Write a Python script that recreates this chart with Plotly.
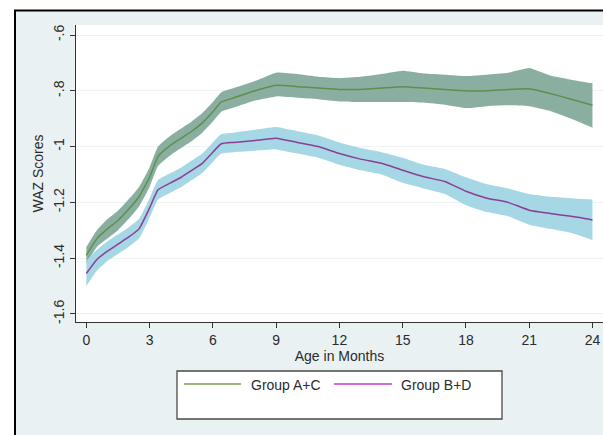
import plotly.graph_objects as go

# Age (months) at which the smoothed WAZ curves are evaluated
age = [0, 0.5, 1, 1.5, 2, 2.5, 3, 3.4, 4, 4.5, 5, 5.5, 6, 6.4, 7, 8, 9, 10,
       11, 12, 13, 14, 15, 16, 17, 18, 19, 20, 21, 22, 23, 24]

# Group A+C: mean WAZ with confidence band
ac_mean = [-1.39, -1.33, -1.295, -1.265, -1.225, -1.18, -1.11, -1.035, -0.995,
           -0.97, -0.945, -0.915, -0.875, -0.84, -0.825, -0.80, -0.78, -0.785,
           -0.79, -0.795, -0.795, -0.79, -0.785, -0.79, -0.795, -0.80, -0.80,
           -0.795, -0.793, -0.81, -0.83, -0.852]
ac_upper = [-1.36, -1.30, -1.26, -1.23, -1.19, -1.145, -1.075, -1.0, -0.96,
            -0.935, -0.91, -0.88, -0.84, -0.805, -0.79, -0.765, -0.735, -0.74,
            -0.75, -0.755, -0.75, -0.74, -0.728, -0.738, -0.742, -0.747, -0.742,
            -0.735, -0.718, -0.745, -0.76, -0.773]
ac_lower = [-1.42, -1.36, -1.33, -1.30, -1.26, -1.215, -1.145, -1.07, -1.03,
            -1.005, -0.98, -0.95, -0.91, -0.875, -0.86, -0.835, -0.82, -0.825,
            -0.83, -0.838, -0.84, -0.84, -0.84, -0.842, -0.85, -0.862, -0.855,
            -0.852, -0.855, -0.872, -0.90, -0.932]

# Group B+D: mean WAZ with confidence band
bd_mean = [-1.455, -1.405, -1.375, -1.35, -1.325, -1.295, -1.22, -1.155, -1.13,
           -1.11, -1.085, -1.06, -1.02, -0.99, -0.985, -0.978, -0.97, -0.985,
           -1.0, -1.025, -1.045, -1.06, -1.085, -1.108, -1.125, -1.16, -1.185,
           -1.20, -1.228, -1.24, -1.25, -1.263]
bd_upper = [-1.41, -1.37, -1.34, -1.315, -1.29, -1.26, -1.185, -1.12, -1.095,
            -1.075, -1.05, -1.025, -0.985, -0.955, -0.95, -0.94, -0.93, -0.945,
            -0.96, -0.985, -1.005, -1.02, -1.04, -1.065, -1.08, -1.11, -1.135,
            -1.15, -1.17, -1.18, -1.185, -1.19]
bd_lower = [-1.50, -1.445, -1.41, -1.385, -1.36, -1.33, -1.255, -1.19, -1.165,
            -1.145, -1.12, -1.095, -1.055, -1.025, -1.02, -1.015, -1.01, -1.025,
            -1.04, -1.065, -1.085, -1.10, -1.13, -1.15, -1.17, -1.21, -1.235,
            -1.25, -1.28, -1.295, -1.31, -1.335]

x_ticks = [0, 3, 6, 9, 12, 15, 18, 21, 24]
y_ticks = [-0.6, -0.8, -1.0, -1.2, -1.4, -1.6]
y_tick_text = ["-.6", "-.8", "-1", "-1.2", "-1.4", "-1.6"]
series_names = ["Group A+C", "Group B+D"]

W, H = 603, 435
ML, MR, MT, MB = 76, 0, 25, 113
PW, PH = W - ML - MR, H - MT - MB

GREEN_BAND = "#8AAFA1"
GREEN_LINE = "#5E8F4C"
BLUE_BAND = "#A6D7E5"
PURPLE_LINE = "#8A3F96"
FRAME_BG = "#EAF1F3"
FONT = "Liberation Sans, Arial, sans-serif"
TEXT = "#2b2b2b"
FS = 14


def px(x):
    """pixel column -> paper x"""
    return (x - ML) / PW


def py(y):
    """pixel row -> paper y"""
    return (H - MB - y) / PH


fig = go.Figure()

for upper, lower, band in [(ac_upper, ac_lower, GREEN_BAND),
                           (bd_upper, bd_lower, BLUE_BAND)]:
    fig.add_trace(go.Scatter(x=age, y=upper, mode="lines",
                             line=dict(width=0, shape="spline", smoothing=0.4),
                             hoverinfo="skip", showlegend=False))
    fig.add_trace(go.Scatter(x=age, y=lower, mode="lines",
                             line=dict(width=0, shape="spline", smoothing=0.4),
                             fill="tonexty", fillcolor=band,
                             hoverinfo="skip", showlegend=False))

fig.add_trace(go.Scatter(x=age, y=ac_mean, mode="lines", name=series_names[0],
                         line=dict(color=GREEN_LINE, width=1.5, shape="spline",
                                   smoothing=0.4),
                         showlegend=False))
fig.add_trace(go.Scatter(x=age, y=bd_mean, mode="lines", name=series_names[1],
                         line=dict(color=PURPLE_LINE, width=1.5, shape="spline",
                                   smoothing=0.4),
                         showlegend=False))

shapes = [
    # white margin outside the graph frame
    dict(type="rect", xref="paper", yref="paper", x0=px(-5), x1=px(W + 5),
         y0=py(10), y1=py(-5), fillcolor="white", line=dict(width=0), layer="below"),
    dict(type="rect", xref="paper", yref="paper", x0=px(-5), x1=px(15),
         y0=py(H + 5), y1=py(-5), fillcolor="white", line=dict(width=0), layer="below"),
    # frame lines
    dict(type="line", xref="paper", yref="paper", x0=px(14), x1=px(W + 5),
         y0=py(10.5), y1=py(10.5), line=dict(color="black", width=2)),
    dict(type="line", xref="paper", yref="paper", x0=px(15), x1=px(15),
         y0=py(10), y1=py(H + 5), line=dict(color="black", width=2)),
    # legend box
    dict(type="rect", xref="paper", yref="paper", x0=px(177), x1=px(502),
         y0=py(419), y1=py(371), fillcolor="white",
         line=dict(color="#4a4a4a", width=1.3)),
    # legend keys
    dict(type="line", xref="paper", yref="paper", x0=px(184), x1=px(241),
         y0=py(384), y1=py(384), line=dict(color="#7E9E50", width=1.3)),
    dict(type="line", xref="paper", yref="paper", x0=px(334), x1=px(392),
         y0=py(384), y1=py(384), line=dict(color="#C43CC4", width=1.3)),
]

annotations = [
    dict(text=series_names[0], xref="paper", yref="paper", x=px(249), y=py(385),
         xanchor="left", yanchor="middle", showarrow=False,
         font=dict(family=FONT, size=FS, color=TEXT)),
    dict(text=series_names[1], xref="paper", yref="paper", x=px(399), y=py(385),
         xanchor="left", yanchor="middle", showarrow=False,
         font=dict(family=FONT, size=FS, color=TEXT)),
]

fig.update_layout(
    width=W, height=H,
    margin=dict(l=ML, r=MR, t=MT, b=MB, pad=0),
    paper_bgcolor=FRAME_BG, plot_bgcolor="white",
    font=dict(family=FONT, size=FS, color=TEXT),
    shapes=shapes, annotations=annotations,
    showlegend=False,
    xaxis=dict(
        range=[-0.49, 24.5], tickmode="array", tickvals=x_ticks,
        ticks="outside", ticklen=5, tickcolor="#333", tickwidth=1,
        showline=True, linecolor="#333", linewidth=1, showgrid=False,
        zeroline=False, tickfont=dict(size=FS, color=TEXT),
        title=dict(text="Age in Months", font=dict(size=FS, color=TEXT),
                   standoff=0),
    ),
    yaxis=dict(
        range=[-1.629, -0.564], tickmode="array", tickvals=y_ticks,
        ticktext=y_tick_text, tickangle=-90,
        ticks="outside", ticklen=5, tickcolor="#333", tickwidth=1,
        showline=True, linecolor="#333", linewidth=1,
        showgrid=True, gridcolor="#EEF2F2", gridwidth=1,
        zeroline=False, tickfont=dict(size=FS, color=TEXT),
        title=dict(text="WAZ Scores", font=dict(size=FS, color=TEXT),
                   standoff=4),
    ),
)

fig.write_html("out.html")
